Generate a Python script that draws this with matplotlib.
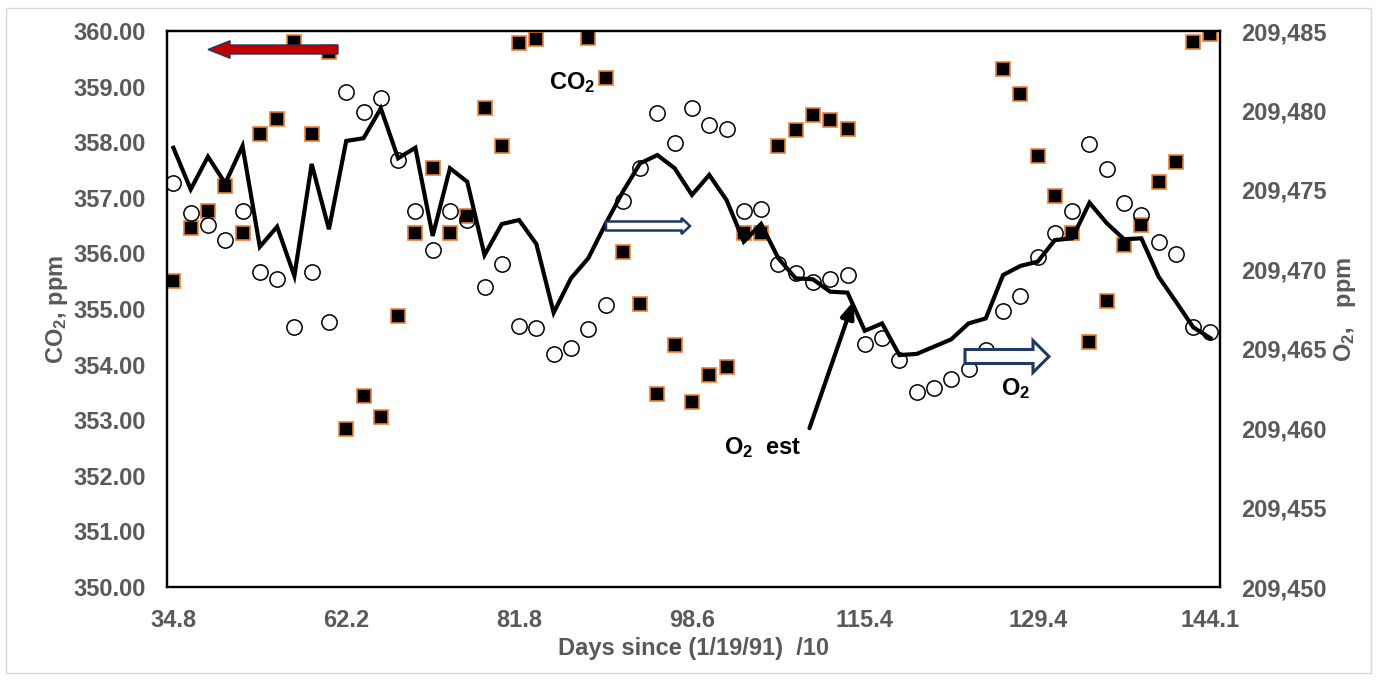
import numpy as np
import matplotlib
matplotlib.use("Agg")
import matplotlib.pyplot as plt
from matplotlib.patches import Polygon, Rectangle
from matplotlib.ticker import FuncFormatter, FixedLocator

plt.rcParams["font.family"] = ["Liberation Sans", "DejaVu Sans"]
plt.rcParams["font.weight"] = "bold"
plt.rcParams["mathtext.fontset"] = "custom"
plt.rcParams["mathtext.rm"] = "Liberation Sans:bold"
plt.rcParams["mathtext.bf"] = "Liberation Sans:bold"
plt.rcParams["mathtext.default"] = "bf"

# ---- data -------------------------------------------------------------
nan = np.nan
co2_ppm = [
    355.50, 356.45, 356.77, 357.21, 356.36, 358.15, 358.41, 359.81, 358.15, 359.63,
    352.84, 353.44, 353.05, 354.88, 356.36, 357.53, 356.36, 356.68, 358.61, 357.94,
    359.78, 359.85, nan, nan, 359.87, 359.15, 356.03, 355.09, 353.48, 354.35,
    353.32, 353.81, 353.95, 356.36, 356.36, 357.94, 358.22, 358.49, 358.40, 358.24,
    nan, nan, nan, nan, nan, nan, nan, nan, 359.31, 358.87,
    357.76, 357.04, 356.36, 354.40, 355.15, 356.15, 356.51, 357.29, 357.64, 359.80,
    359.94,
]
o2_ppm = [
    209475.45, 209473.56, 209472.79, 209471.84, 209473.69, 209469.85, 209469.37, 209466.39, 209469.85, 209466.70,
    209481.18, 209479.88, 209480.76, 209476.88, 209473.69, 209471.21, 209473.69, 209473.10, 209468.91, 209470.33,
    209466.45, 209466.28, 209464.65, 209465.03, 209466.22, 209467.75, 209474.32, 209476.36, 209479.82, 209477.97,
    209480.13, 209479.08, 209478.83, 209473.69, 209473.78, 209470.33, 209469.75, 209469.18, 209469.37, 209469.64,
    209465.28, 209465.65, 209464.29, 209462.29, 209462.51, 209463.07, 209463.70, 209464.92, 209467.39, 209468.32,
    209470.75, 209472.27, 209473.69, 209477.87, 209476.29, 209474.19, 209473.42, 209471.70, 209470.96, 209466.39,
    209466.07,
]
o2_est_ppm = [
    209477.65, 209475.03, 209477.09, 209475.41, 209477.76, 209471.42, 209472.68, 209469.58, 209476.63, 209472.52,
    209478.08, 209478.25, 209480.13, 209476.99, 209477.65, 209472.10, 209476.36, 209475.51, 209470.90, 209472.85,
    209473.10, 209471.59, 209467.27, 209469.43, 209470.69, 209472.85, 209474.88, 209476.67, 209477.19, 209476.36,
    209474.68, 209475.94, 209474.36, 209471.74, 209472.85, 209470.69, 209469.43, 209469.37, 209468.59, 209468.53,
    209466.13, 209466.59, 209464.60, 209464.67, 209465.13, 209465.59, 209466.59, 209466.91, 209469.64, 209470.21,
    209470.48, 209471.84, 209471.95, 209474.19, 209472.90, 209471.89, 209471.95, 209469.53, 209467.96, 209466.35,
    209465.66,
]
day_labels = ["34.8", "62.2", "81.8", "98.6", "115.4", "129.4", "144.1"]
label_step = 10

co2_ticks = [350, 351, 352, 353, 354, 355, 356, 357, 358, 359, 360]
o2_ticks = [209450, 209455, 209460, 209465, 209470, 209475, 209480, 209485]

# ---- figure -----------------------------------------------------------
W, H = 1376, 680
fig = plt.figure(figsize=(W / 100, H / 100), dpi=100)
fig.patch.set_facecolor("white")

def fx(px):
    return px / W

def fy(py):
    return 1 - py / H

left, right, top, bottom = 167, 1220, 31, 587
ax1 = fig.add_axes([fx(left), fy(bottom), (right - left) / W, (bottom - top) / H])
ax2 = ax1.twinx()

idx = np.arange(len(o2_ppm))
GRAY = "#595959"
FS = 17

# CO2 on the primary axis
ax1.plot(idx, co2_ppm, linestyle="none", marker="s", markersize=10.5,
         markerfacecolor="black", markeredgecolor="#ED7D31", markeredgewidth=1.2,
         zorder=3)

# O2 estimate line and measured O2 on the secondary axis
ax2.plot(idx, o2_est_ppm, color="black", linewidth=3.0, solid_joinstyle="miter",
         zorder=2)
ax2.plot(idx, o2_ppm, linestyle="none", marker="o", markersize=11,
         markerfacecolor="none", markeredgecolor="black", markeredgewidth=1.1,
         zorder=3)

ax1.set_xlim(-0.37, 60.55)
ax1.set_ylim(350, 360)
ax2.set_ylim(209450, 209485)

ax1.xaxis.set_major_locator(FixedLocator(idx[::label_step]))
ax1.set_xticklabels(day_labels)
ax1.set_yticks(co2_ticks)
ax1.yaxis.set_major_formatter(FuncFormatter(lambda v, p: f"{v:.2f}"))
ax2.set_yticks(o2_ticks)
ax2.yaxis.set_major_formatter(FuncFormatter(lambda v, p: f"{int(round(v)):,}"))

tick_font = dict(labelsize=FS, labelcolor=GRAY, length=0)
ax1.tick_params(axis="x", pad=16, **tick_font)
ax1.tick_params(axis="y", pad=15, **tick_font)
ax2.tick_params(axis="y", pad=15.5, **tick_font)
for lab in ax1.get_xticklabels() + ax1.get_yticklabels() + ax2.get_yticklabels():
    lab.set_fontweight("bold")

for a in (ax1, ax2):
    for s in a.spines.values():
        s.set_color("black")
        s.set_linewidth(1.6)
ax1.spines["bottom"].set_color("#7F7F7F")

# axis titles
ax1.set_xlabel("Days since (1/19/91)  /10", fontsize=FS, color=GRAY,
               fontweight="bold")
ax1.xaxis.set_label_coords(0.5, (bottom - 648) / (bottom - top))
ax1.xaxis.label.set_va("center")

ax1.set_ylabel("CO$_2$, ppm", fontsize=FS, color=GRAY, fontweight="bold")
ax1.yaxis.set_label_coords((57 - left) / (right - left), 0.5)
ax1.yaxis.label.set_va("center")

ax2.set_ylabel("O$_2$,   ppm", fontsize=FS, color=GRAY, fontweight="bold",
               rotation=90)
ax2.yaxis.set_label_coords((1345 - left) / (right - left), 0.5)
ax2.yaxis.label.set_va("center")

# in-chart labels
ax1.text(23.07, 359.08, "CO$_2$", fontsize=FS, fontweight="bold",
         ha="center", va="center", color="black")
ax2.text(48.7, 209462.5, "O$_2$", fontsize=FS, fontweight="bold",
         ha="center", va="center", color="black")
ax2.text(34.1, 209458.8, "O$_2$  est", fontsize=FS, fontweight="bold",
         ha="center", va="center", color="black")
ax2.annotate("", xy=(39.35, 209468.0), xytext=(36.8, 209460.0),
             arrowprops=dict(arrowstyle="-|>,head_length=1.0,head_width=0.4",
                             lw=3, color="black", shrinkA=0, shrinkB=0))


# block arrows pointing to the axis each series is read on
def block_arrow(x_tail, x_tip, yc, shaft_h, head_h, head_len, face, edge, lw):
    d = 1 if x_tip > x_tail else -1
    base = x_tip - d * head_len
    pts = [
        (x_tail, yc - shaft_h / 2), (base, yc - shaft_h / 2), (base, yc - head_h / 2),
        (x_tip, yc), (base, yc + head_h / 2), (base, yc + shaft_h / 2),
        (x_tail, yc + shaft_h / 2),
    ]
    poly = Polygon([(fx(x), fy(y)) for x, y in pts], closed=True,
                   transform=fig.transFigure, facecolor=face, edgecolor=edge,
                   linewidth=lw, joinstyle="miter", zorder=5)
    fig.add_artist(poly)


NAVY = "#203864"
block_arrow(338, 208, 49.5, 9, 17.5, 22, "#C00000", NAVY, 1.0)
block_arrow(606, 690, 226, 9, 16, 8.5, "white", NAVY, 1.8)
block_arrow(965, 1049, 356.5, 14, 32, 16, "white", NAVY, 2.2)

# chart area border
fig.add_artist(Rectangle((fx(6), fy(673)), fx(1371) - fx(6), fy(8) - fy(673),
                         transform=fig.transFigure, fill=False,
                         edgecolor="#D9D9D9", linewidth=1.0, zorder=0))

fig.savefig("out.png", dpi=100)
